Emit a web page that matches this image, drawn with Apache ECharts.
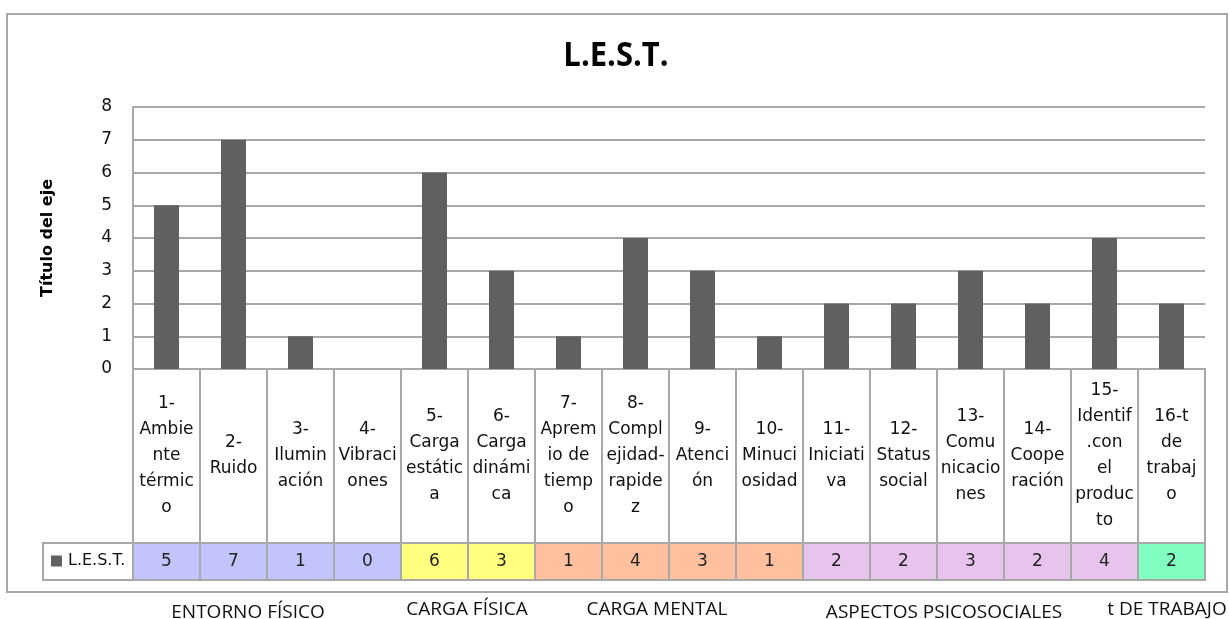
<!DOCTYPE html>
<html>
<head>
<meta charset="utf-8">
<script src="https://cdn.jsdelivr.net/npm/echarts@6/dist/echarts.min.js"></script>
<style>
html,body{margin:0;padding:0;background:#fff;}
#chart{width:1229px;height:619px;}
</style>
</head>
<body>
<div id="chart"></div>
<script>
// ---- data ----
const categories = [
  "1-\nAmbie\nnte\ntérmic\no",
  "2-\nRuido",
  "3-\nIlumin\nación",
  "4-\nVibraci\nones",
  "5-\nCarga\nestátic\na",
  "6-\nCarga\ndinámi\nca",
  "7-\nAprem\nio de\ntiemp\no",
  "8-\nCompl\nejidad-\nrapide\nz",
  "9-\nAtenci\nón",
  "10-\nMinuci\nosidad",
  "11-\nIniciati\nva",
  "12-\nStatus\nsocial",
  "13-\nComu\nnicacio\nnes",
  "14-\nCoope\nración",
  "15-\nIdentif\n.con\nel\nproduc\nto",
  "16-t\nde\ntrabaj\no"
];
const values = [5, 7, 1, 0, 6, 3, 1, 4, 3, 1, 2, 2, 3, 2, 4, 2];
const seriesName = "L.E.S.T.";
const groupNames = ["ENTORNO FÍSICO", "CARGA FÍSICA", "CARGA MENTAL", "ASPECTOS PSICOSOCIALES", "t DE TRABAJO"];
const groupOf = [0, 0, 0, 0, 1, 1, 2, 2, 2, 2, 3, 3, 3, 3, 3, 4];
const groupColors = ["#c4c4fc", "#ffff80", "#ffc0a0", "#e6c4ec", "#80ffc0"];
const yTicks = [0, 8, 1];

// ---- layout / style ----
const GRAY = "#a8a8a8";
const FONT = "DejaVu Sans";
const groupLabelPos = [[248, 613], [467, 610], [657, 610], [944, 613], [1167, 610]];

const chart = echarts.init(document.getElementById('chart'));

const graphics = [
  { type: 'rect', z: -10, shape: { x: 7, y: 14, width: 1220, height: 578 },
    style: { fill: '#fff', stroke: GRAY, lineWidth: 2 } },
  { type: 'rect', z: 1, shape: { x: 43, y: 543, width: 90, height: 37 },
    style: { fill: '#fff', stroke: GRAY, lineWidth: 2 } },
  { type: 'text', z: 5, x: 616, y: 56, scaleY: 1.12,
    style: { text: 'L.E.S.T.', x: 0, y: 0, align: 'center', verticalAlign: 'middle',
      font: 'bold 31px "Open Sans"', fill: '#000' } }
];
groupNames.forEach((g, i) => {
  graphics.push({
    type: 'text', z: 5,
    style: { text: g, x: groupLabelPos[i][0], y: groupLabelPos[i][1],
      align: 'center', verticalAlign: 'middle',
      font: '19px "Open Sans"', fill: '#111' }
  });
});

chart.setOption({
  animation: false,
  backgroundColor: '#fff',
  legend: {
    data: [seriesName], left: 51, top: 553, padding: 0,
    icon: 'rect', itemWidth: 11, itemHeight: 11, itemGap: 6,
    textStyle: { fontFamily: FONT, fontSize: 16, color: '#111', padding: [0, 0, 0, 1] },
    z: 6
  },
  graphic: graphics,
  grid: [
    { left: 133, top: 107, width: 1072, height: 262 },
    { left: 133, top: 543, width: 1072, height: 37 }
  ],
  xAxis: [
    {
      type: 'category', gridIndex: 0, data: categories,
      axisLine: { lineStyle: { color: GRAY, width: 2 } },
      axisTick: { show: true, length: 174, interval: 0, lineStyle: { color: GRAY, width: 2 } },
      axisLabel: { interval: 0, fontFamily: FONT, fontSize: 17, color: '#111',
        lineHeight: 26, margin: 87, verticalAlign: 'middle', align: 'center' }
    },
    { type: 'category', gridIndex: 1, data: categories, show: false }
  ],
  yAxis: [
    {
      type: 'value', gridIndex: 0, min: yTicks[0], max: yTicks[1], interval: yTicks[2],
      name: 'Título del eje', nameLocation: 'middle', nameGap: 77, nameRotate: 90,
      nameTextStyle: { fontFamily: FONT, fontWeight: 'bold', fontSize: 16, color: '#000' },
      axisLine: { show: true, lineStyle: { color: GRAY, width: 2 } },
      axisTick: { show: false },
      splitLine: { lineStyle: { color: GRAY, width: 2 } },
      axisLabel: { fontFamily: FONT, fontSize: 17, color: '#111', margin: 21 }
    },
    { type: 'value', gridIndex: 1, min: 0, max: 1, show: false }
  ],
  series: [
    {
      name: seriesName, type: 'bar', xAxisIndex: 0, yAxisIndex: 0,
      data: values, barWidth: 25, itemStyle: { color: '#606060' }
    },
    {
      name: 'table', type: 'custom', xAxisIndex: 1, yAxisIndex: 1,
      data: values.map((v, i) => [i, 1, v]),
      encode: { x: 0, y: 1 },
      renderItem: function (params, api) {
        const idx = api.value(0);
        const v = api.value(2);
        const top = api.coord([idx, 1]);
        const bot = api.coord([idx, 0]);
        const w = api.size([1, 0])[0];
        return {
          type: 'group',
          children: [
            { type: 'rect',
              shape: { x: top[0] - w / 2, y: top[1], width: w, height: bot[1] - top[1] },
              style: { fill: groupColors[groupOf[idx]], stroke: GRAY, lineWidth: 2 } },
            { type: 'text',
              style: { text: String(v), x: top[0], y: (top[1] + bot[1]) / 2,
                align: 'center', verticalAlign: 'middle',
                font: '17px "DejaVu Sans"', fill: '#222' } }
          ]
        };
      }
    }
  ]
});
</script>
</body>
</html>
